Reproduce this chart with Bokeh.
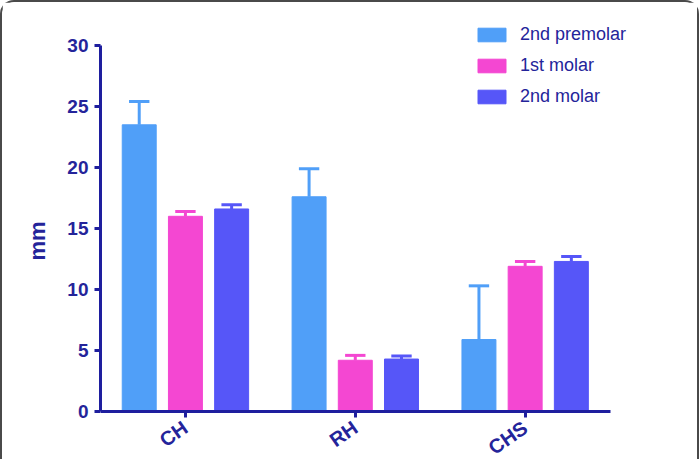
from bokeh.plotting import figure
from bokeh.models import Legend, LegendItem, FixedTicker, ColumnDataSource
from bokeh.embed import file_html
from bokeh.resources import INLINE
import math

categories = ["CH", "RH", "CHS"]
series = ["2nd premolar", "1st molar", "2nd molar"]
premolar2 = [23.5, 17.6, 5.9]
premolar2_err = [1.9, 2.3, 4.4]
molar1 = [16.0, 4.2, 11.9]
molar1_err = [0.4, 0.4, 0.4]
molar2 = [16.6, 4.3, 12.3]
molar2_err = [0.35, 0.25, 0.4]
y_ticks = [0, 5, 10, 15, 20, 25, 30]

colors = ["#509ff8", "#f447d2", "#5656f8"]
axis_color = "#1e1e9e"
text_color = "#24249a"

# frame: left 98, top 20, right 690, bottom 457; zero line at 409 px (12.2 px per mm)
p = figure(width=699, height=459, output_backend="svg", toolbar_location=None,
           x_range=(-0.5, 2.5 + 82 / 169), y_range=(-48 / 12.2, 389 / 12.2),
           min_border_left=98, min_border_right=9, min_border_top=20, min_border_bottom=2)
p.outline_line_color = None
p.grid.grid_line_color = None
p.background_fill_color = "white"
p.border_fill_color = "white"

offsets = [-0.272, 0.0, 0.272]
bar_w = 0.2
vals = [premolar2, molar1, molar2]
errs = [premolar2_err, molar1_err, molar2_err]
renderers = []
for k in range(3):
    xs = [i + offsets[k] for i in range(len(categories))]
    src = ColumnDataSource(dict(x=xs, top=vals[k],
                                up=[v + e for v, e in zip(vals[k], errs[k])],
                                x0=[x - 0.06 for x in xs], x1=[x + 0.06 for x in xs]))
    p.segment(x0="x", y0="top", x1="x", y1="up", source=src, line_color=colors[k], line_width=3)
    p.segment(x0="x0", y0="up", x1="x1", y1="up", source=src, line_color=colors[k], line_width=3)
    r = p.vbar(x="x", top="top", width=bar_w, bottom=0, source=src,
               fill_color=colors[k], line_color=colors[k], line_width=1)
    renderers.append(r)

for ax in (p.xaxis[0], p.yaxis[0]):
    ax.axis_line_color = axis_color
    ax.axis_line_width = 3
    ax.major_tick_line_color = axis_color
    ax.major_tick_line_width = 3
    ax.major_tick_out = 6
    ax.major_tick_in = 0
    ax.minor_tick_line_color = None
    ax.major_label_text_color = text_color
    ax.major_label_text_font = "Liberation Sans"
    ax.major_label_text_font_style = "bold"
    ax.major_label_text_font_size = "19px"

p.yaxis.bounds = (0, 30)
p.xaxis.bounds = (-0.5, 2.5)
p.xaxis.fixed_location = 0
p.yaxis.ticker = FixedTicker(ticks=y_ticks)
p.yaxis.major_label_standoff = 6
p.yaxis.axis_label = "mm"
p.yaxis.axis_label_text_color = text_color
p.yaxis.axis_label_text_font = "Liberation Sans"
p.yaxis.axis_label_text_font_style = "bold"
p.yaxis.axis_label_text_font_size = "22px"
p.yaxis.axis_label_standoff = 14

p.xaxis.ticker = FixedTicker(ticks=list(range(len(categories))))
p.xaxis.major_label_overrides = {i: c for i, c in enumerate(categories)}
p.xaxis.major_label_orientation = math.radians(35)
p.xaxis.major_label_standoff = 8
p.xaxis.major_label_text_font_size = "20px"

legend = Legend(items=[LegendItem(label=s, renderers=[r]) for s, r in zip(series, renderers)],
                location=(374, 352), margin=0, padding=0,
                border_line_color=None, background_fill_alpha=0,
                glyph_width=35, glyph_height=17, label_height=20, spacing=10,
                label_standoff=11, label_text_font="Liberation Sans",
                label_text_font_size="18px", label_text_color=text_color)
p.add_layout(legend, "center")

p.styles = {"border-top": "2px solid #4a4a4a", "border-left": "2px solid #4a4a4a",
            "border-right": "2px solid #4a4a4a", "border-radius": "14px 14px 0 0",
            "box-sizing": "border-box"}

open("out.html", "w").write(file_html(p, INLINE))
